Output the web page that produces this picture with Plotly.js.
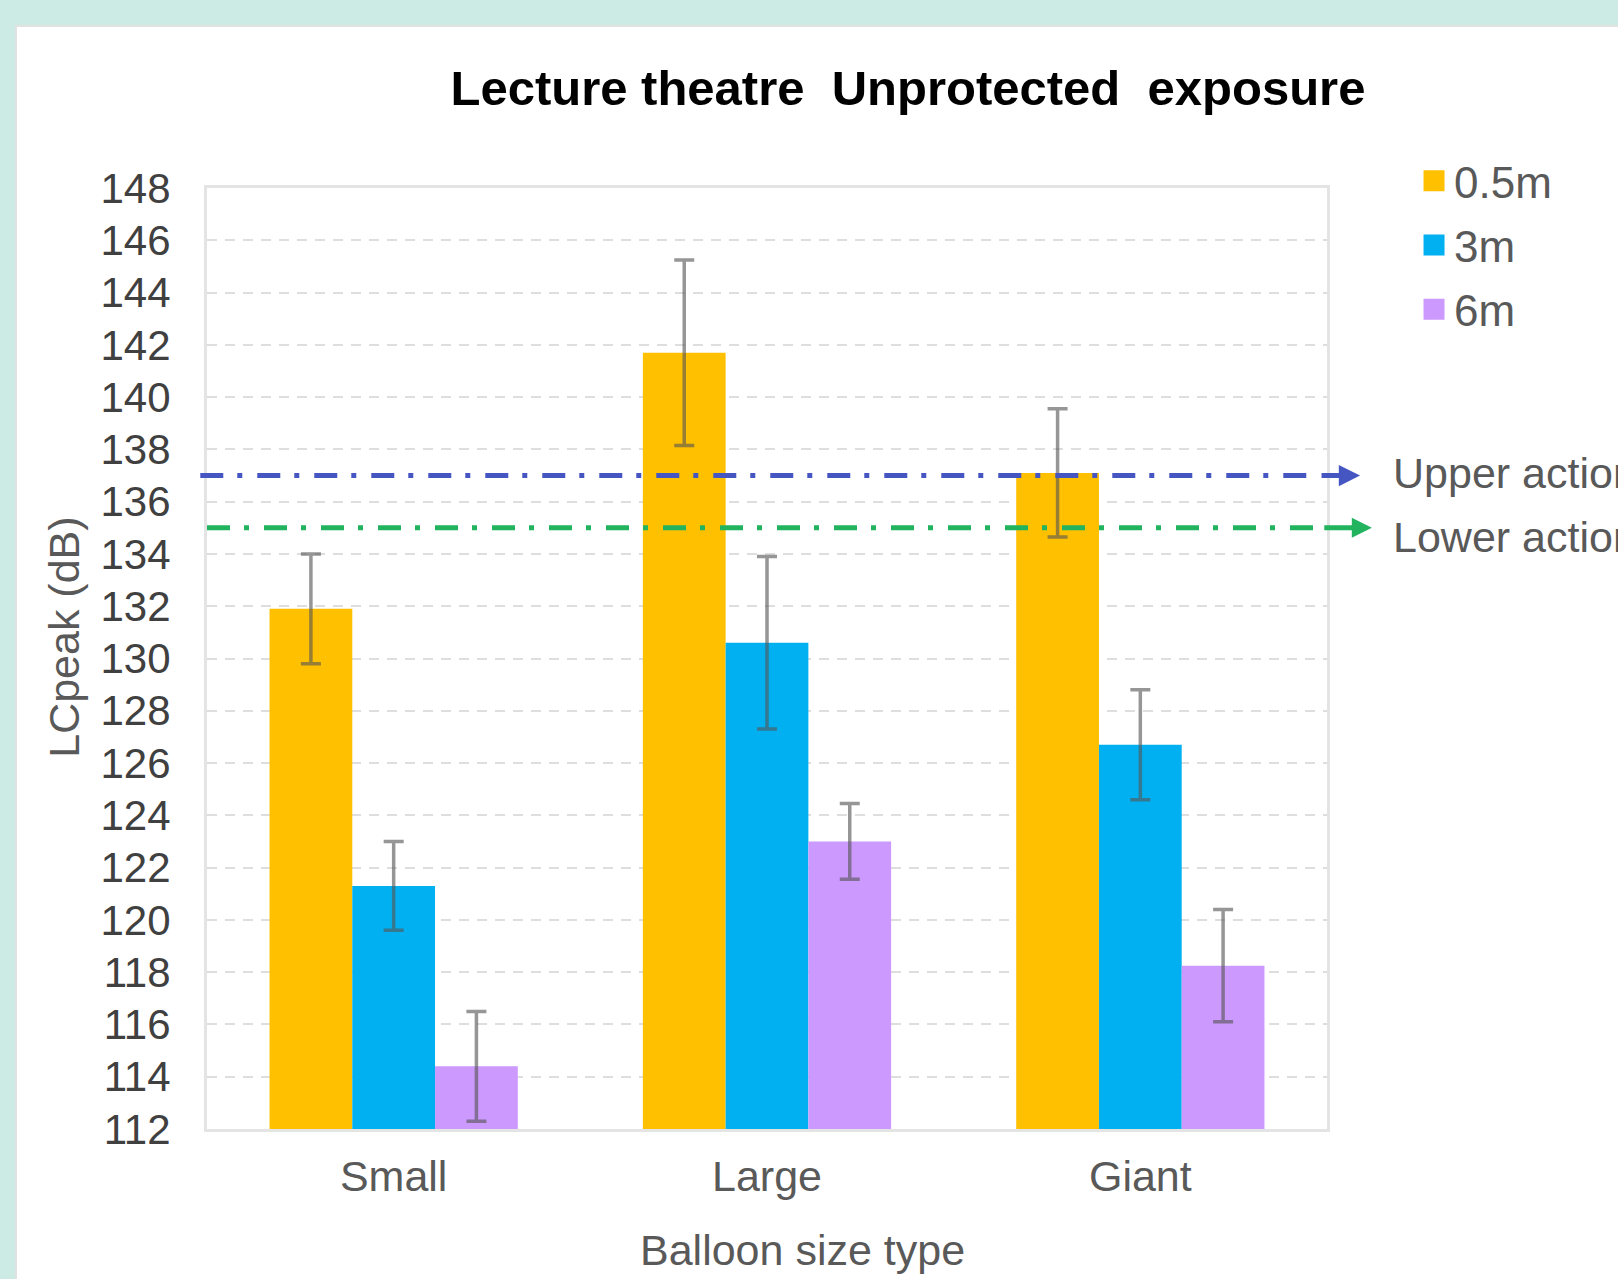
<!DOCTYPE html>
<html>
<head>
<meta charset="utf-8">
<script src="https://cdn.plot.ly/plotly-3.0.1.min.js"></script>
<style>
  html, body { margin: 0; padding: 0; width: 1618px; height: 1279px; overflow: hidden; background: #cdebe5; }
  #panel { position: absolute; left: 15px; top: 25px; width: 1603px; height: 1254px;
           border-left: 2px solid #e2e2e2; border-top: 2px solid #e2e2e2; background: #ffffff; }
  #chart { position: absolute; left: 0; top: 0; width: 1601px; height: 1252px; }
</style>
</head>
<body>
<div id="panel"><div id="chart"></div></div>
<script>
// Balloon burst peak levels (LCpeak, dB) measured in a lecture theatre
const categories = ['Small', 'Large', 'Giant'];
const seriesNames = ['0.5m', '3m', '6m'];
const seriesColors = ['#ffc000', '#00b0f0', '#cc99ff'];

const mean05 = [131.9, 141.7, 137.1];
const err05  = [2.1, 3.55, 2.45];
const mean3  = [121.3, 130.6, 126.7];
const err3   = [1.7, 3.3, 2.1];
const mean6  = [114.4, 123.0, 118.25];
const err6   = [2.1, 1.45, 2.15];

// Exposure action values (peak, dB)
const upperAction = 137;
const lowerAction = 135;
const actionLabels = ['Upper action', 'Lower action'];

const yTicks = [112, 114, 116, 118, 120, 122, 124, 126, 128, 130, 132, 134, 136, 138, 140, 142, 144, 146, 148];

const FONT = 'Liberation Sans, Arial, sans-serif';
const TXT = '#595959';

const means = [mean05, mean3, mean6];
const errs = [err05, err3, err6];

// Grouped bars with symmetric error bars
const barTraces = seriesNames.map((name, i) => ({
  type: 'bar',
  name: name,
  x: categories,
  y: means[i],
  marker: { color: seriesColors[i] },
  error_y: { type: 'data', array: errs[i], visible: true,
             color: 'rgba(85,85,85,0.62)', thickness: 3.5, width: 10 },
  showlegend: false,
  hoverinfo: 'x+y+name'
}));

// Legend entries with larger square swatches
const legendTraces = seriesNames.map((name, i) => ({
  type: 'scatter',
  mode: 'markers',
  name: name,
  legendgroup: name,
  x: [null],
  y: [null],
  marker: { symbol: 'square', size: 16, color: seriesColors[i],
            line: { color: seriesColors[i], width: 5 } },
  showlegend: true,
  hoverinfo: 'skip'
}));

const BLUE = '#4556c2';
const GREEN = '#22b35e';

const layout = {
  width: 1601,
  height: 1252,
  margin: { l: 190, r: 291, t: 161, b: 150 },
  paper_bgcolor: '#ffffff',
  plot_bgcolor: '#ffffff',
  font: { family: FONT, color: TXT, size: 43 },
  title: {
    text: '<b>Lecture theatre\u00a0 Unprotected\u00a0 exposure</b>',
    font: { family: FONT, size: 49, color: '#000000' },
    xref: 'container', x: 0.5565, xanchor: 'center',
    yref: 'container', y: 0.9513, yanchor: 'middle'
  },
  barmode: 'group',
  bargap: 0.335,
  bargroupgap: 0,
  showlegend: true,
  legend: {
    x: 1.0777, xanchor: 'left', y: 1.045, yanchor: 'top',
    font: { family: FONT, size: 44, color: TXT },
    bgcolor: 'rgba(0,0,0,0)', traceorder: 'grouped', tracegroupgap: 4
  },
  xaxis: {
    type: 'category',
    showgrid: false,
    showline: true, mirror: true, linecolor: '#e4e4e4', linewidth: 3,
    ticks: '', ticklabelstandoff: 7,
    tickfont: { family: FONT, size: 43, color: TXT }
  },
  yaxis: {
    range: [112, 148],
    tickmode: 'array', tickvals: yTicks, ticktext: yTicks.map(String),
    showgrid: true, gridcolor: '#dedede', gridwidth: 2, griddash: '10px,8px',
    zeroline: false,
    showline: true, mirror: true, linecolor: '#e4e4e4', linewidth: 3,
    ticks: '', ticklabelstandoff: 25,
    tickfont: { family: FONT, size: 42, color: '#404040' }
  },
  shapes: [
    { type: 'line', xref: 'paper', yref: 'y', x0: -0.006, x1: 0.994, y0: upperAction, y1: upperAction,
      line: { color: BLUE, width: 5, dash: '23px,14px,5px,15px' } },
    { type: 'line', xref: 'paper', yref: 'y', x0: 0.0, x1: 0.995, y0: lowerAction, y1: lowerAction,
      line: { color: GREEN, width: 5, dash: '23px,14px,5px,15px' } }
  ],
  annotations: [
    { xref: 'paper', yref: 'y', x: 1.0295, y: upperAction, text: '', showarrow: true,
      ax: -40, ay: 0, arrowhead: 2, arrowsize: 0.85, arrowwidth: 5, arrowcolor: BLUE },
    { xref: 'paper', yref: 'y', x: 1.040, y: lowerAction, text: '', showarrow: true,
      ax: -49, ay: 0, arrowhead: 2, arrowsize: 0.8, arrowwidth: 5, arrowcolor: GREEN },
    { xref: 'paper', yref: 'paper', x: 1.057, y: 0.697, xanchor: 'left', yanchor: 'middle',
      text: actionLabels[0], showarrow: false, font: { family: FONT, size: 43, color: TXT } },
    { xref: 'paper', yref: 'paper', x: 1.057, y: 0.629, xanchor: 'left', yanchor: 'middle',
      text: actionLabels[1], showarrow: false, font: { family: FONT, size: 43, color: TXT } },
    { xref: 'paper', yref: 'paper', x: -0.1277, y: 0.523, xanchor: 'center', yanchor: 'middle',
      text: 'LCpeak (dB)', textangle: -90, showarrow: false,
      font: { family: FONT, size: 43, color: TXT } },
    { xref: 'paper', yref: 'paper', x: 0.532, y: -0.1286, xanchor: 'center', yanchor: 'middle',
      text: 'Balloon size type', showarrow: false,
      font: { family: FONT, size: 43, color: TXT } }
  ]
};

Plotly.newPlot('chart', barTraces.concat(legendTraces), layout, { displayModeBar: false, staticPlot: true });
</script>
</body>
</html>
